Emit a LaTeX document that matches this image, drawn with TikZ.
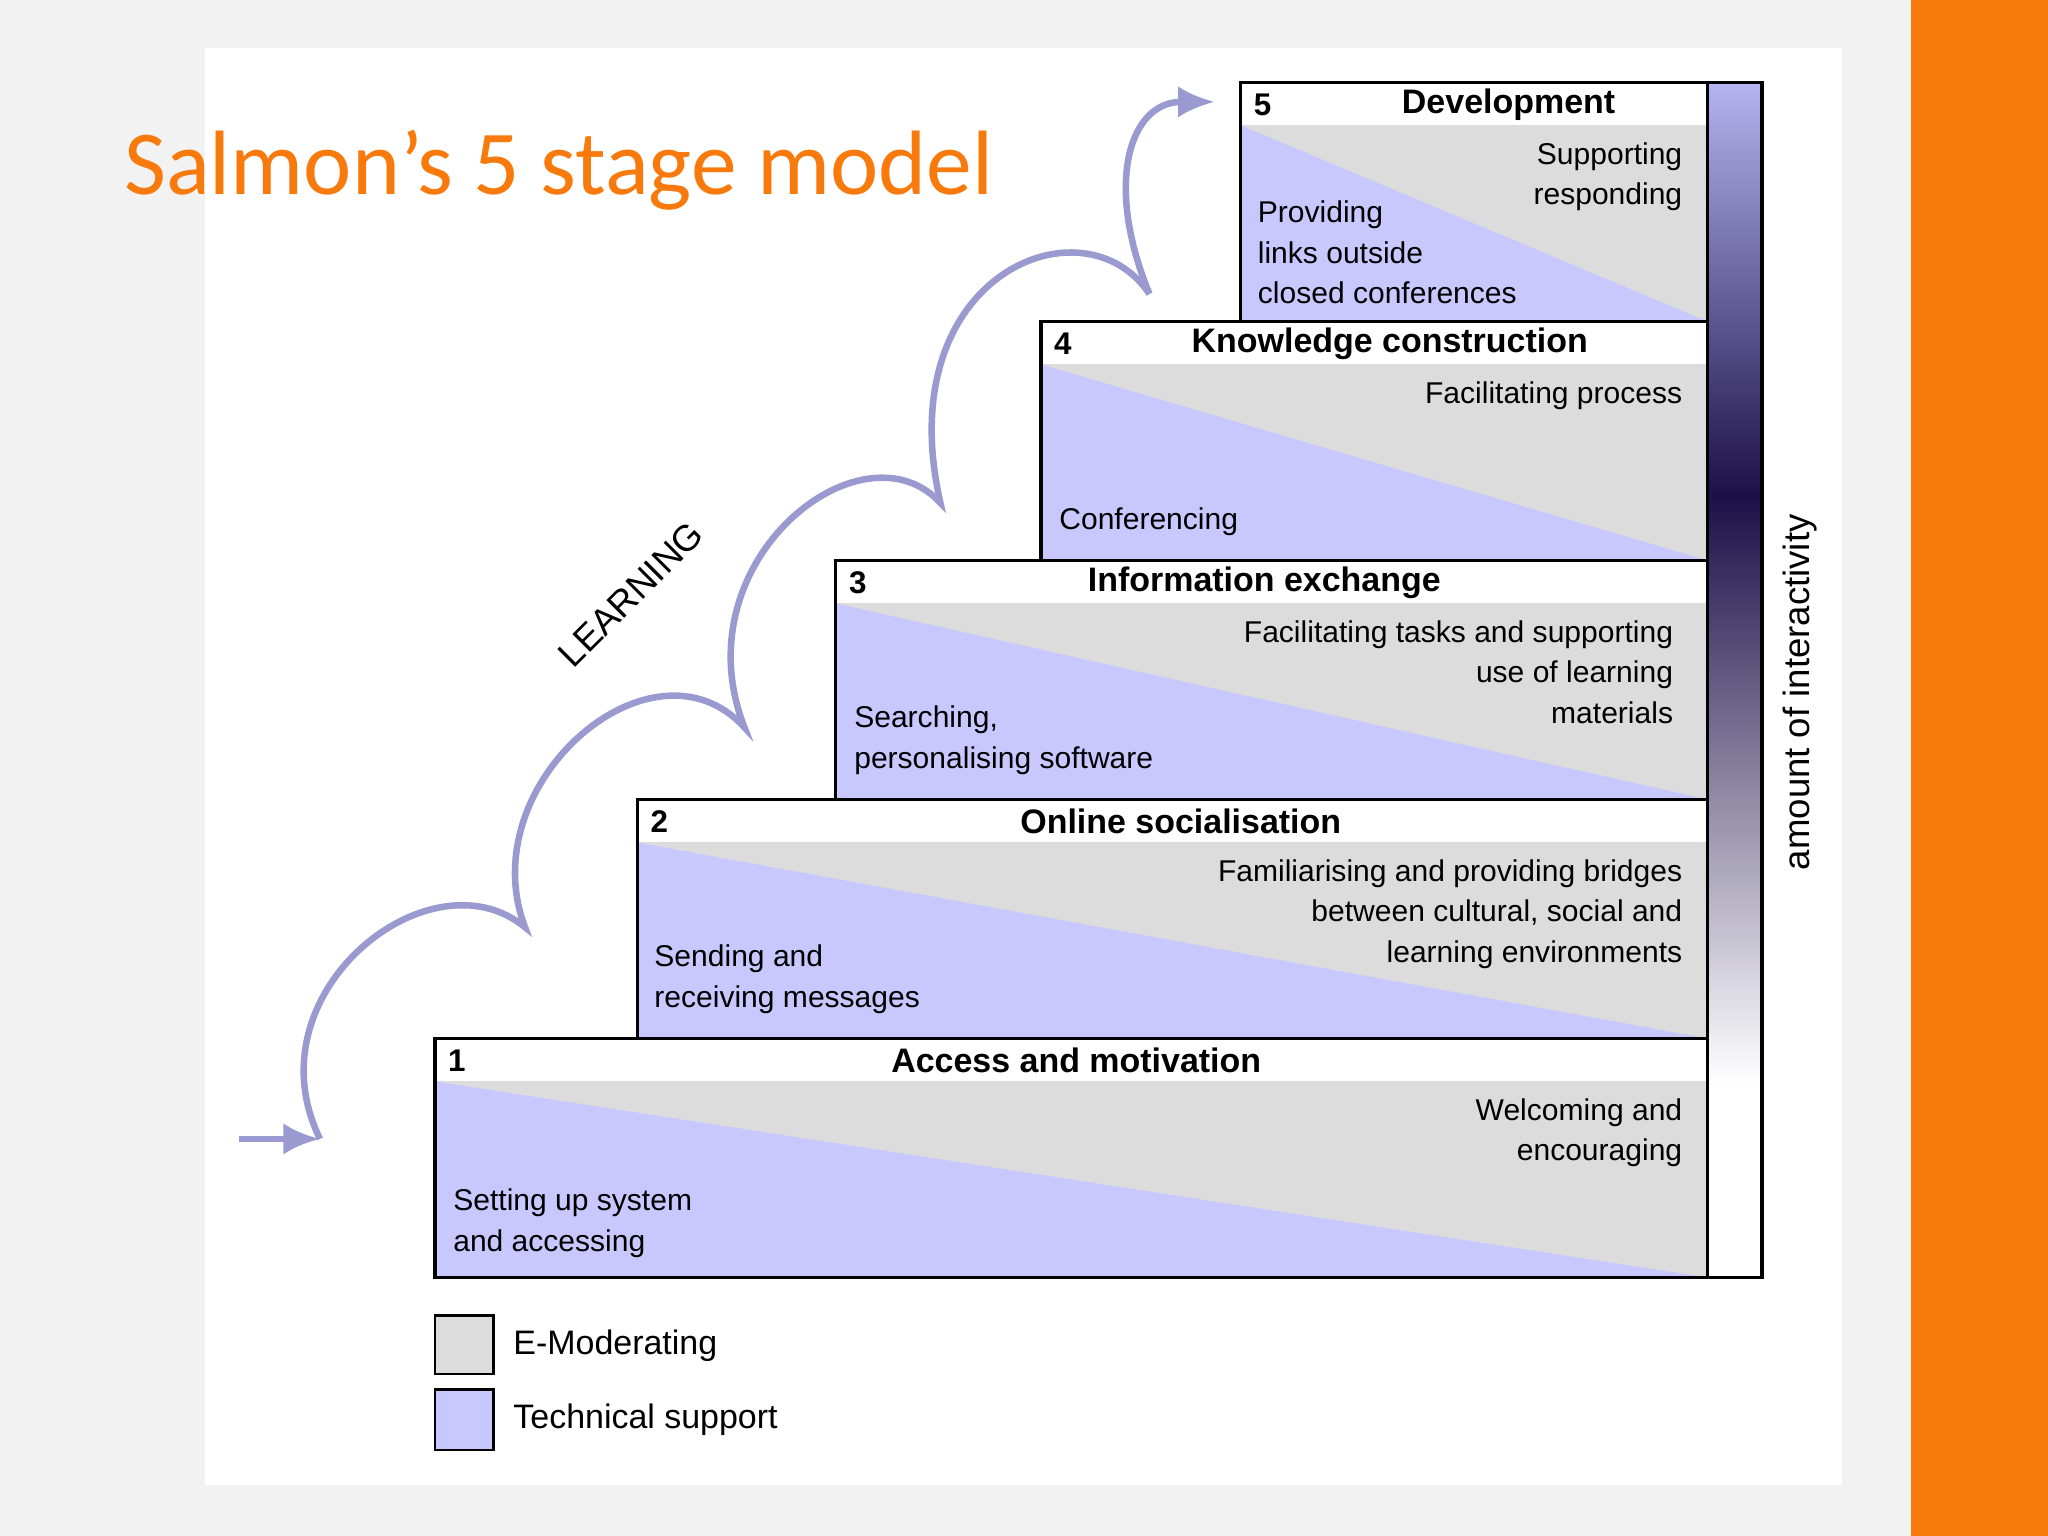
\documentclass[tikz,border=0pt]{standalone}
\usepackage{fontspec}
\setmainfont{Liberation Sans}
\newfontfamily\titlefont{Carlito}
\usetikzlibrary{arrows.meta}
\definecolor{tblue}{HTML}{C8C8FF}
\definecolor{egray}{HTML}{DCDCDC}
\definecolor{curvec}{HTML}{9A9AD0}
\definecolor{orng}{HTML}{F97A0C}
\definecolor{navy}{HTML}{1C1048}
\definecolor{ltop}{HTML}{B4B4F0}
\begin{document}
\begin{tikzpicture}[x=0.5pt,y=-0.5pt,
  hdr/.style={font=\fontsize{13}{14}\selectfont\bfseries},
  num/.style={font=\fontsize{12}{13}\selectfont\bfseries,anchor=west},
  txt/.style={font=\fontsize{11.5}{15.5}\selectfont,align=right,anchor=north east},
  ltxt/.style={font=\fontsize{11.5}{15.5}\selectfont,align=left,anchor=south west},
  frame/.style={draw=black,line width=1.2pt}]
\useasboundingbox (0,0) rectangle (1568,1176);
\fill[gray!10] (0,0) rectangle (1568,1176);
\fill[white] (157,37) rectangle (1410,1137);
\fill[orng] (1463,0) rectangle (1568,1176);
% stages
\foreach \i/\xl/\yt in {1/333/795,2/488/612,3/640/429,4/797/246,5/950/63}{
  \fill[egray] (\xl,\yt+33) rectangle (1307,\yt+183);
  \fill[tblue] (\xl,\yt+33) -- (\xl,\yt+183) -- (1307,\yt+183) -- cycle;
  \draw[frame] (\xl,\yt) rectangle (1307,\yt+183);
  \node[num] (n\i) at (\xl+3,\yt+17) {\i};
}
\node[hdr] (h1) at (824,812) {Access and motivation};
\node[hdr] (h2) at (904,629) {Online socialisation};
\node[hdr] (h3) at (968,446) {Information exchange};
\node[hdr] (h4) at (1064,263) {Knowledge construction};
\node[hdr] (h5) at (1155,80) {Development};
\node[txt] (r1) at (1295,834) {Welcoming and\\encouraging};
\node[ltxt] (l1) at (340,970) {Setting up system\\and accessing};
\node[txt] (r2) at (1295,651) {Familiarising and providing bridges\\between cultural, social and\\learning environments};
\node[ltxt] (l2) at (494,783) {Sending and\\receiving messages};
\node[txt] (r3) at (1288,468) {Facilitating tasks and supporting\\use of learning\\materials};
\node[ltxt] (l3) at (647,600) {Searching,\\personalising software};
\node[txt] (r4) at (1295,285) {Facilitating process};
\node[ltxt] (l4) at (804,417) {Conferencing};
\node[txt] (r5) at (1295,102) {Supporting\\responding};
\node[ltxt] (l5) at (956,240) {Providing\\links outside\\closed conferences};
% gradient bar
\shade[top color=ltop, bottom color=navy] (1307,63) rectangle (1349,380);
\shade[top color=navy, bottom color=white] (1307,379) rectangle (1349,830);
\fill[white] (1307,829) rectangle (1349,978);
\draw[frame] (1307,63) rectangle (1349,978);
\node[rotate=90,font=\fontsize{14}{15}\selectfont] (ai) at (1378,530) {amount of interactivity};
% legend
\draw[fill=egray,line width=1pt] (333,1007) rectangle (378,1052);
\draw[fill=tblue,line width=1pt] (333,1064) rectangle (378,1110);
\node[anchor=west,font=\fontsize{13}{14}\selectfont] (lg1) at (386,1030) {E-Moderating};
\node[anchor=west,font=\fontsize{13}{14}\selectfont] (lg2) at (386,1087) {Technical support};
% title
\node[anchor=west,text=orng,font=\titlefont\fontsize{35}{38}\selectfont] (title) at (88,130) {Salmon’s 5 stage model};
% learning curve
\coordinate (s0) at (183,872);
\coordinate (c1) at (245,872);
\coordinate (c2) at (402,710);
\coordinate (c3) at (570,557);
\coordinate (c4) at (720,385);
\coordinate (c5) at (880,225);
\coordinate (e) at (930,78);
\draw[curvec,line width=2.5pt,-{Latex[length=14pt,width=12pt]}] (s0) -- (c1);
\draw[curvec,line width=2.5pt] (c1) .. controls (190,760) and (330,650) .. (c2)
  .. controls (360,600) and (500,480) .. (c3)
  .. controls (520,430) and (660,320) .. (c4)
  .. controls (680,210) and (830,150) .. (c5);
\draw[curvec,line width=2.5pt,-{Latex[length=14pt,width=12pt]}] (c5) .. controls (845,140) and (865,78) .. (e);
\node[rotate=45,font=\fontsize{14}{15}\selectfont] (lrn) at (483,455) {LEARNING};
\end{tikzpicture}
\end{document}
